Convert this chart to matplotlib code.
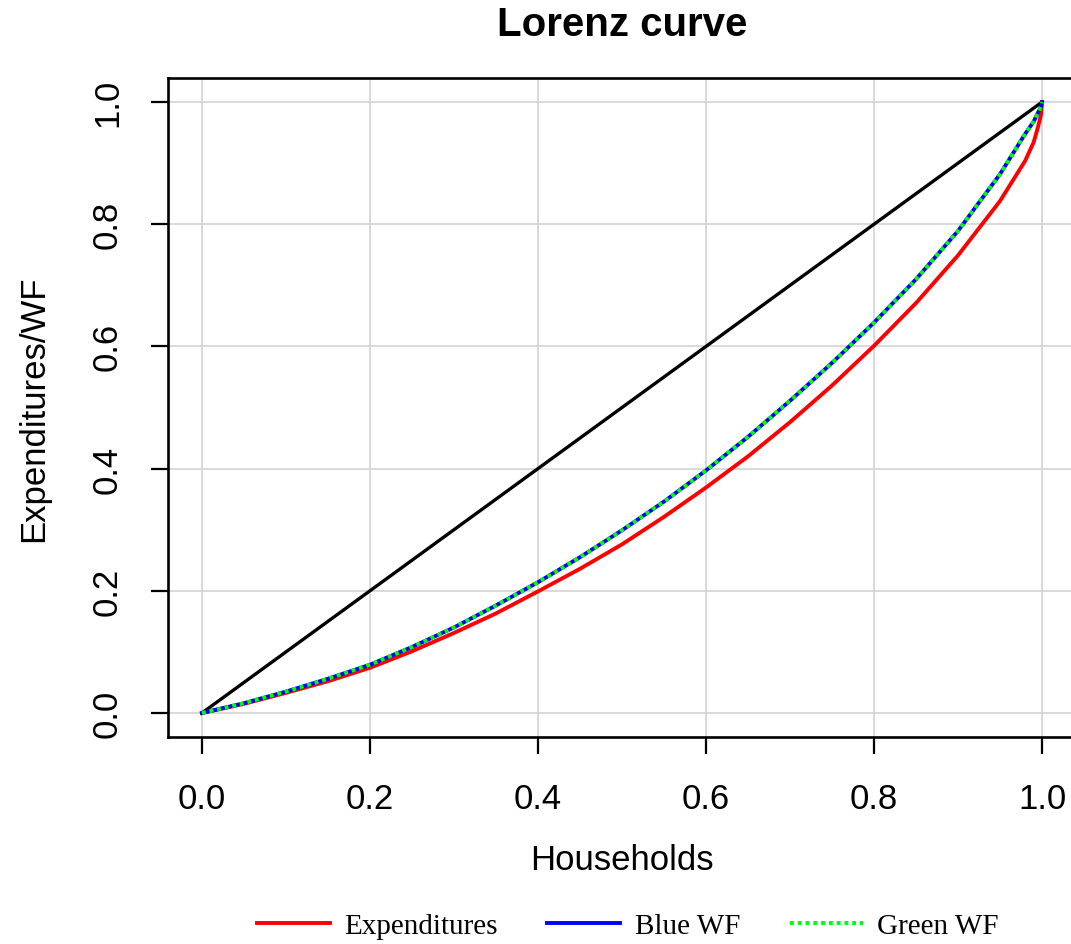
import matplotlib
matplotlib.use("Agg")
import matplotlib.pyplot as plt
from matplotlib.lines import Line2D

# cumulative share of households (x) and the Lorenz curves
households = [0.0, 0.05, 0.1, 0.15, 0.2, 0.25, 0.3, 0.35, 0.4, 0.45, 0.5, 0.55, 0.6,
              0.65, 0.7, 0.75, 0.8, 0.85, 0.9, 0.95, 0.98, 0.99, 0.995, 0.999, 1.0]
expenditures = [0.0, 0.015, 0.033, 0.052, 0.074, 0.101, 0.131, 0.163, 0.199, 0.236, 0.276, 0.321, 0.369,
                0.42, 0.476, 0.536, 0.601, 0.671, 0.749, 0.838, 0.904, 0.934, 0.958, 0.98, 1.0]
blue_wf = [0.0, 0.016, 0.035, 0.056, 0.079, 0.108, 0.14, 0.176, 0.214, 0.255, 0.299, 0.346, 0.397,
           0.452, 0.511, 0.573, 0.639, 0.71, 0.789, 0.882, 0.948, 0.968, 0.982, 0.993, 1.0]
green_wf = [0.0, 0.016, 0.035, 0.056, 0.079, 0.108, 0.14, 0.176, 0.214, 0.255, 0.299, 0.346, 0.397,
            0.452, 0.511, 0.573, 0.639, 0.71, 0.789, 0.882, 0.948, 0.968, 0.982, 0.993, 1.0]
equality = [0.0, 1.0]

ticks = [0.0, 0.2, 0.4, 0.6, 0.8, 1.0]
tick_labels = ["0.0", "0.2", "0.4", "0.6", "0.8", "1.0"]

plt.rcParams['font.family'] = ['Liberation Sans', 'DejaVu Sans']

fig = plt.figure(figsize=(10.71, 9.45), dpi=100)
ax = fig.add_axes([0.1572, 0.2186, 0.8471, 0.6982])

ax.plot(equality, equality, color='black', lw=2.4)
ax.plot(households, expenditures, color='#ff0000', lw=2.8)
ax.plot(households, blue_wf, color='#0000ff', lw=2.8)
ax.plot(households, green_wf, color='#00ff00', lw=2.8, linestyle=(0, (1, 1)))

ax.set_xlim(-0.04, 1.04)
ax.set_ylim(-0.04, 1.04)
ax.set_xticks(ticks)
ax.set_xticklabels(tick_labels)
ax.set_yticks(ticks)
ax.set_yticklabels(tick_labels)
ax.grid(True, color='#d3d3d3', lw=1.2)
ax.set_axisbelow(True)

ax.tick_params(axis='both', direction='out', length=12, width=1.6, labelsize=25, pad=20)
ax.tick_params(axis='y', labelrotation=90)
for lab in ax.get_yticklabels():
    lab.set_va('center')
for sp in ax.spines.values():
    sp.set_linewidth(1.9)

ax.set_title('Lorenz curve', fontsize=29, fontweight='bold', pad=31)
ax.set_xlabel('Households', fontsize=25)
ax.xaxis.set_label_coords(0.5, -0.16)
ax.set_ylabel('Expenditures/WF', fontsize=25)
ax.yaxis.set_label_coords(-0.13, 0.5)

handles = [
    Line2D([], [], color='#ff0000', lw=2.8),
    Line2D([], [], color='#0000ff', lw=2.8),
    Line2D([], [], color='#00ff00', lw=2.8, linestyle=(0, (1, 1))),
]
fig.legend(handles, ['Expenditures', 'Blue WF', 'Green WF'], loc='center',
           bbox_to_anchor=(0.586, 1 - 927 / 945), ncol=3, frameon=False,
           prop={'family': ['Liberation Serif', 'DejaVu Serif'], 'size': 21},
           handlelength=2.5, handletextpad=0.5, columnspacing=1.7)

fig.savefig('out.png', dpi=100)
